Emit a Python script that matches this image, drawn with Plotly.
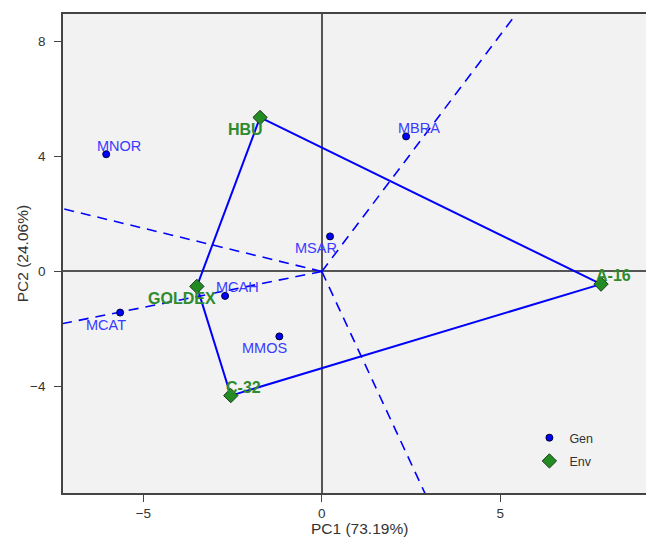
import numpy as np
import plotly.graph_objects as go

# ---------------- data ----------------
gen_names = ["MNOR", "MBRA", "MSAR", "MCAH", "MCAT", "MMOS"]
gen_pc1 = [-6.04, 2.36, 0.23, -2.71, -5.65, -1.19]
gen_pc2 = [4.08, 4.70, 1.22, -0.85, -1.43, -2.26]
gen_label_side = ["tr", "tr", "bl", "tr", "bl", "bl"]

env_names = ["HBU", "GOLDEX", "A-16", "C-32"]
env_pc1 = [-1.73, -3.50, 7.82, -2.55]
env_pc2 = [5.36, -0.52, -0.44, -4.32]
env_label_side = ["bl", "bl", "tr", "tr"]

x_title = "PC1 (73.19%)"
y_title = "PC2 (24.06%)"
x_tickvals = [-5, 0, 5]
y_tickvals = [-4, 0, 4, 8]
x_range = [-7.25, 9.08]
y_range = [-7.71, 8.96]

FONT = "Liberation Sans, Arial, sans-serif"
BLUE = "#0000ff"
GREEN = "#228b22"


# ---------------- convex hull of environments ----------------
def convex_hull(pts):
    pts = sorted(pts)

    def cross(o, a, b):
        return (a[0] - o[0]) * (b[1] - o[1]) - (a[1] - o[1]) * (b[0] - o[0])

    lower, upper = [], []
    for p in pts:
        while len(lower) >= 2 and cross(lower[-2], lower[-1], p) <= 0:
            lower.pop()
        lower.append(p)
    for p in reversed(pts):
        while len(upper) >= 2 and cross(upper[-2], upper[-1], p) <= 0:
            upper.pop()
        upper.append(p)
    return lower[:-1] + upper[:-1]


hull = convex_hull(list(zip(env_pc1, env_pc2)))
hx = [p[0] for p in hull] + [hull[0][0]]
hy = [p[1] for p in hull] + [hull[0][1]]

# rays from origin perpendicular to each hull side
rx, ry = [], []
for i in range(len(hull)):
    p = np.array(hull[i])
    q = np.array(hull[(i + 1) % len(hull)])
    d = q - p
    t = -p.dot(d) / d.dot(d)
    foot = p + t * d
    u = foot / np.linalg.norm(foot)
    end = u * 40
    rx += [0, end[0], None]
    ry += [0, end[1], None]

fig = go.Figure()

fig.add_trace(go.Scatter(x=rx, y=ry, mode="lines", showlegend=False, hoverinfo="skip",
                         line=dict(color=BLUE, width=1.6, dash="10px,7px")))
fig.add_trace(go.Scatter(x=hx, y=hy, mode="lines", showlegend=False, hoverinfo="skip",
                         line=dict(color=BLUE, width=2)))

fig.add_trace(go.Scatter(x=gen_pc1, y=gen_pc2, mode="markers", name="Gen", text=gen_names,
                         legendgroup="gen",
                         marker=dict(symbol="circle", size=7, color=BLUE,
                                     line=dict(color="#000033", width=1))))
fig.add_trace(go.Scatter(x=env_pc1, y=env_pc2, mode="markers", name="Env", text=env_names,
                         legendgroup="env",
                         marker=dict(symbol="diamond", size=11, color=GREEN,
                                     line=dict(color="#1a3a1a", width=1))))

shifts = {"tr": (12.5, 8.5), "bl": (-14.5, -12.0)}
annotations = []
for n, x, y, s in zip(gen_names, gen_pc1, gen_pc2, gen_label_side):
    dx, dy = shifts[s]
    annotations.append(dict(x=x, y=y, text=n, showarrow=False, xanchor="center", yanchor="middle",
                            xshift=dx, yshift=dy,
                            font=dict(family=FONT, size=14.5, color="#3a3aff")))
for n, x, y, s in zip(env_names, env_pc1, env_pc2, env_label_side):
    dx, dy = shifts[s]
    annotations.append(dict(x=x, y=y, text="<b>" + n + "</b>", showarrow=False,
                            xanchor="center", yanchor="middle",
                            xshift=dx, yshift=dy,
                            font=dict(family=FONT, size=16, color="#2e8b2e")))

# axis titles
annotations.append(dict(text=x_title, xref="paper", yref="paper", x=0.509, y=-0.075,
                        xanchor="center", yanchor="middle", showarrow=False,
                        font=dict(family=FONT, size=15.5, color="#333333")))
annotations.append(dict(text=y_title, xref="paper", yref="paper", x=-0.069, y=0.5,
                        xanchor="center", yanchor="middle", showarrow=False, textangle=-90,
                        font=dict(family=FONT, size=15.5, color="#333333")))

axis_common = dict(showgrid=False, zeroline=True, zerolinecolor="#555555", zerolinewidth=1.6,
                   showline=True, linecolor="#444444", linewidth=1.6,
                   ticks="outside", ticklen=7, tickcolor="#444444", tickwidth=1.2,
                   tickfont=dict(family=FONT, size=13.5, color="#333333"))

fig.update_layout(
    width=646, height=539,
    margin=dict(l=63, r=0, t=14, b=46),
    paper_bgcolor="white", plot_bgcolor="#f2f2f2",
    font=dict(family=FONT, color="#333333"),
    xaxis=dict(range=x_range, tickvals=x_tickvals, mirror=True, **axis_common),
    yaxis=dict(range=y_range, tickvals=y_tickvals, mirror=False, ticklabelstandoff=6,
               **axis_common),
    legend=dict(x=0.80, y=0.146, xanchor="left", yanchor="top", bgcolor="rgba(0,0,0,0)",
                font=dict(family=FONT, size=12.5, color="#333333"), tracegroupgap=4),
    annotations=annotations,
    showlegend=True,
)

fig.write_html("out.html", config={"displayModeBar": False},
               post_script="document.body.style.margin='0';document.body.style.overflow='hidden';")
